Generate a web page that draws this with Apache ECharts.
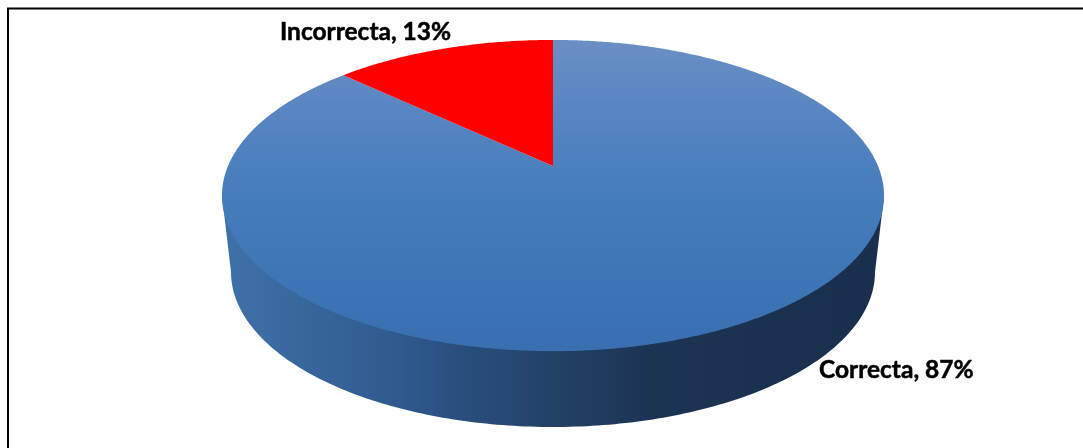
<!DOCTYPE html>
<html>
<head>
<meta charset="utf-8">
<style>html,body{margin:0;padding:0;background:#fff}#c{width:1083px;height:448px}</style>
<script src="https://cdn.jsdelivr.net/npm/echarts@6/dist/echarts.min.js"></script>
</head>
<body>
<div id="c"></div>
<script>
const categories = ['Correcta', 'Incorrecta'];
const values = [87, 13];
const total = values.reduce((a, b) => a + b, 0);

// Perspective disc: theta is measured clockwise from 12 o'clock
const cx = 553, apexY = 166, A = 325, B = 150, P = 0.19;
function rim(theta) {
  const u = Math.sin(theta), v = -Math.cos(theta), w = 1 - P * v;
  return [cx + A * u / w, apexY + B * v / w];
}
const baseCy = 272, baseRx = 322, baseRy = 155, rimCy = 196, rimRx = 331;

const labelPos = {
  Correcta: [819, 370],
  Incorrecta: [280, 32]
};

function renderItem(params, api) {
  const i = params.dataIndex;
  const before = values.slice(0, i).reduce((a, b) => a + b, 0);
  const a0 = before / total * 2 * Math.PI;
  const a1 = (before + api.value(0)) / total * 2 * Math.PI;
  const children = [];

  // The wall is drawn with the slice that spans the front half of the disc
  if (a0 < Math.PI * 0.5 && a1 > Math.PI * 1.5) {
    const hull = [[cx + rimRx, rimCy]];
    for (let d = 0; d <= 180; d += 1) {
      const r = d * Math.PI / 180;
      hull.push([cx + baseRx * Math.cos(r), baseCy + baseRy * Math.sin(r)]);
    }
    hull.push([cx - rimRx, rimCy]);
    children.push({
      type: 'polygon',
      shape: { points: hull },
      style: {
        fill: new echarts.graphic.LinearGradient(222, 0, 884, 0, [
          { offset: 0, color: '#3f71a9' },
          { offset: 0.27, color: '#2f5a8e' },
          { offset: 0.344, color: '#2a5080' },
          { offset: 0.495, color: '#234268' },
          { offset: 0.647, color: '#1c3453' },
          { offset: 0.8, color: '#1b3150' },
          { offset: 1, color: '#1a2f4e' }
        ], true)
      }
    });
  }

  const pts = [[cx, apexY]];
  const n = Math.ceil((a1 - a0) / (Math.PI / 180)) * 2;
  for (let k = 0; k <= n; k++) pts.push(rim(a0 + (a1 - a0) * k / n));
  children.push({
    type: 'polygon',
    shape: { points: pts },
    style: {
      fill: i === 0
        ? new echarts.graphic.LinearGradient(0, 40, 0, 351, [
            { offset: 0, color: '#6a8fc5' },
            { offset: 0.25, color: '#5685c2' },
            { offset: 0.55, color: '#437bbb' },
            { offset: 1, color: '#396fb1' }
          ], true)
        : '#ff0000'
    }
  });

  const name = categories[i];
  children.push({
    type: 'text',
    x: labelPos[name][0],
    y: labelPos[name][1],
    style: {
      text: name + ', ' + api.value(0) + '%',
      fill: '#000',
      stroke: '#000',
      lineWidth: 0.5,
      font: 'bold 24.5px Lato, sans-serif',
      textAlign: 'left',
      textVerticalAlign: 'middle'
    }
  });
  return { type: 'group', children };
}

const chart = echarts.init(document.getElementById('c'), null, { renderer: 'canvas' });
chart.setOption({
  animation: false,
  backgroundColor: '#fff',
  graphic: [{
    type: 'rect',
    shape: { x: 8, y: 8.5, width: 1200, height: 600 },
    style: { fill: 'none', stroke: '#000', lineWidth: 2 },
    silent: true,
    z: 0
  }],
  series: [{
    type: 'custom',
    coordinateSystem: 'none',
    renderItem,
    data: values.map((v, i) => ({ name: categories[i], value: [v] })),
    z: 2
  }]
});
</script>
</body>
</html>
